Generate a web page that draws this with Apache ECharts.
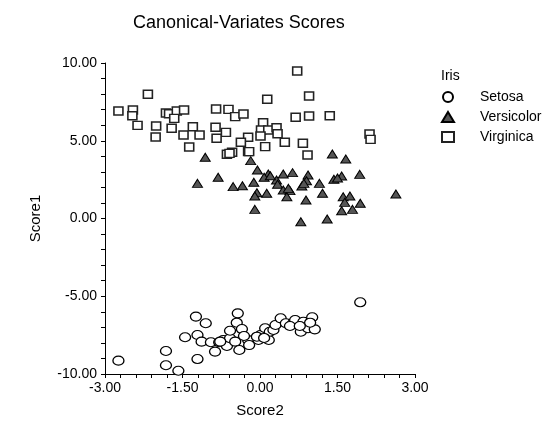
<!DOCTYPE html>
<html>
<head>
<meta charset="utf-8">
<script src="https://cdn.jsdelivr.net/npm/echarts@6/dist/echarts.min.js"></script>
<style>
  html, body { margin: 0; padding: 0; background: #fff; }
  #chart { width: 554px; height: 423px; }
</style>
</head>
<body>
<div id="chart"></div>
<script>
// Score2 (x), Score1 (y)
const setosa = [
  [-2.74, -9.14], [-1.82, -8.52], [-1.82, -9.44], [-1.58, -9.79], [-1.45, -7.64],
  [-1.24, -6.31], [-1.05, -6.74], [-1.21, -7.49], [-1.13, -7.92], [-0.95, -7.96],
  [-0.87, -8.56], [-1.21, -9.04], [-0.79, -7.96], [-0.71, -7.81], [-0.64, -8.20],
  [-0.58, -7.70], [-0.58, -7.22], [-0.43, -6.10], [-0.45, -6.70], [-0.35, -7.11],
  [-0.48, -7.92], [-0.40, -8.46], [-0.23, -7.81], [-0.21, -8.14], [-0.03, -7.81],
  [0.01, -7.49], [0.10, -7.06], [0.17, -7.81], [0.19, -7.28], [0.26, -7.17],
  [0.30, -6.85], [0.40, -6.42], [0.50, -6.74], [0.64, -6.74], [0.68, -6.53],
  [0.79, -7.28], [0.84, -6.64], [0.93, -7.06], [1.01, -6.35], [1.06, -7.13],
  [0.97, -6.70], [1.94, -5.39], [-0.06, -7.60], [-0.77, -7.92], [-0.31, -7.56],
  [0.08, -7.68], [0.58, -6.91], [0.77, -6.91]
];
const versicolor = [
  [-1.06, 3.94], [-0.18, 3.72], [1.40, 4.15], [1.66, 3.83], [-0.05, 3.12],
  [0.16, 2.86], [0.08, 2.65], [0.45, 2.86], [0.63, 2.95], [0.93, 2.80],
  [0.90, 2.43], [1.43, 2.52], [1.58, 2.73], [1.93, 2.84], [-0.81, 2.65],
  [-1.21, 2.26], [-0.52, 2.05], [-0.34, 2.11], [-0.12, 2.33], [0.32, 2.48],
  [0.34, 2.20], [1.15, 2.26], [-0.06, 1.66], [-0.10, 1.45], [0.13, 1.62],
  [0.45, 1.83], [0.58, 1.79], [0.52, 1.40], [0.81, 2.09], [0.85, 2.26],
  [1.21, 1.62], [0.89, 1.19], [1.61, 1.40], [1.74, 1.45], [1.64, 1.04],
  [1.94, 0.98], [1.79, 0.59], [1.58, 0.50], [2.63, 1.58], [-0.10, 0.59],
  [0.79, -0.21], [1.30, -0.03], [0.55, 1.94], [1.50, 2.60], [0.20, 2.75]
];
const virginica = [
  [-2.74, 6.91], [-2.46, 6.98], [-2.47, 6.61], [-2.17, 7.99], [-2.37, 5.99],
  [-2.01, 5.95], [-2.02, 5.24], [-1.82, 6.78], [-1.76, 6.74], [-1.61, 6.91],
  [-1.47, 6.98], [-1.66, 6.44], [-1.71, 5.80], [-1.48, 5.37], [-1.30, 5.90],
  [-1.17, 5.37], [-1.37, 4.60], [0.72, 9.49], [0.14, 7.67], [0.95, 7.88],
  [0.69, 6.51], [0.95, 6.59], [-0.85, 7.04], [-0.61, 7.02], [-0.48, 6.55],
  [-0.32, 6.72], [-0.86, 5.87], [-0.66, 5.54], [-0.84, 5.16], [0.06, 6.16],
  [0.02, 5.69], [0.16, 5.69], [0.32, 5.84], [0.34, 5.45], [0.01, 5.31],
  [-0.23, 5.22], [-0.37, 4.90], [0.48, 4.90], [0.83, 4.84], [0.10, 4.62],
  [-0.23, 4.30], [-0.64, 4.13], [-0.54, 4.26], [0.92, 4.08], [1.35, 6.61],
  [2.12, 5.43], [2.14, 5.09], [-0.59, 4.19], [-0.21, 4.30]
];
const groups = ['Setosa', 'Versicolor', 'Virginica'];

const chart = echarts.init(document.getElementById('chart'));
const font = 'Liberation Sans, Arial, sans-serif';
const fmt = v => v.toFixed(2);

chart.setOption({
  animation: false,
  textStyle: { fontFamily: font, color: '#000' },
  title: [
    {
      text: 'Canonical-Variates Scores',
      left: 128, top: 9,
      textStyle: { fontFamily: font, fontSize: 18, fontWeight: 'normal', color: '#000' }
    },
    {
      text: 'Iris',
      left: 436, top: 64,
      textStyle: { fontFamily: font, fontSize: 14, fontWeight: 'normal', color: '#000' }
    }
  ],
  legend: {
    orient: 'vertical',
    left: 436, top: 85,
    itemWidth: 12, itemHeight: 10,
    itemGap: 6,
    data: groups,
    textStyle: { fontFamily: font, fontSize: 14, color: '#000', padding: [0, 0, 0, 21] }
  },
  grid: { left: 105, right: 139, top: 63, bottom: 49 },
  xAxis: {
    type: 'value',
    min: -3, max: 3, interval: 1.5,
    name: 'Score2', nameLocation: 'middle', nameGap: 29,
    nameTextStyle: { fontFamily: font, fontSize: 15, color: '#000' },
    axisLine: { onZero: false, lineStyle: { color: '#000', width: 1 } },
    axisTick: { length: 4, lineStyle: { color: '#000' } },
    minorTick: { show: true, splitNumber: 5, length: 4, lineStyle: { color: '#000' } },
    splitLine: { show: false },
    axisLabel: { formatter: fmt, fontSize: 14, color: '#000', margin: 7 }
  },
  yAxis: {
    type: 'value',
    min: -10, max: 10, interval: 5,
    name: 'Score1', nameLocation: 'middle', nameGap: 62, nameRotate: 90,
    nameTextStyle: { fontFamily: font, fontSize: 15, color: '#000' },
    axisLine: { show: true, onZero: false, lineStyle: { color: '#000', width: 1 } },
    axisTick: { show: true, length: 4, lineStyle: { color: '#000' } },
    minorTick: { show: true, splitNumber: 5, length: 4, lineStyle: { color: '#000' } },
    splitLine: { show: false },
    axisLabel: { formatter: fmt, fontSize: 14, color: '#000', margin: 8 }
  },
  series: [
    {
      name: 'Setosa', type: 'scatter', data: setosa,
      symbol: 'circle', symbolSize: [11, 9],
      itemStyle: { color: '#fff', borderColor: '#000', borderWidth: 1.2, opacity: 1 }
    },
    {
      name: 'Versicolor', type: 'scatter', data: versicolor,
      symbol: 'triangle', symbolSize: [10, 8],
      itemStyle: { color: '#555', borderColor: '#000', borderWidth: 1, opacity: 1 }
    },
    {
      name: 'Virginica', type: 'scatter', data: virginica,
      symbol: 'rect', symbolSize: [9, 8],
      itemStyle: { color: '#fff', borderColor: '#222', borderWidth: 1.5, opacity: 1 }
    }
  ]
});
</script>
</body>
</html>
